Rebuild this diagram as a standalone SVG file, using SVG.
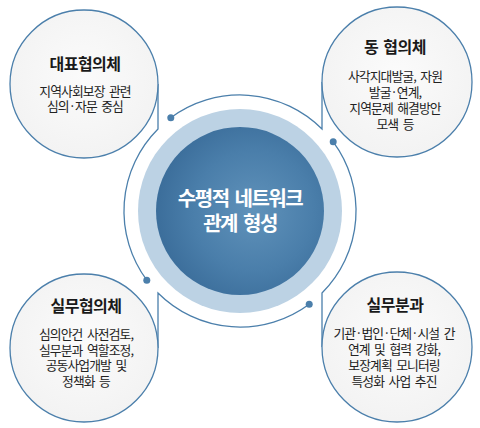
<svg xmlns="http://www.w3.org/2000/svg" width="480" height="428" viewBox="0 0 480 428">
<defs>
<radialGradient id="core" cx="0.58" cy="0.5" r="0.6">
<stop offset="0" stop-color="#6092ba"/>
<stop offset="0.6" stop-color="#4a7eaa"/>
<stop offset="1" stop-color="#3a6c99"/>
</radialGradient>
<radialGradient id="bub" cx="0.5" cy="0.45" r="0.6">
<stop offset="0" stop-color="#fbfbfb"/>
<stop offset="1" stop-color="#f2f2f2"/>
</radialGradient>
<style>
.bubble{fill:url(#bub);stroke:#4b7fab;stroke-width:1.3}
.conn{fill:none;stroke:#4b7fab;stroke-width:1.3}
.dot{fill:#4b7fab}
.title{font-family:"Noto Sans CJK KR","Noto Sans",sans-serif;font-weight:bold;font-size:16px;fill:#1a1a1a;text-anchor:middle;letter-spacing:-0.5px;word-spacing:2px}
.body{font-family:"Noto Sans CJK KR","Noto Sans",sans-serif;font-size:12.8px;fill:#222;text-anchor:middle;letter-spacing:-0.9px;word-spacing:2.5px}
.center{font-family:"Noto Sans CJK KR","Noto Sans",sans-serif;font-weight:bold;font-size:20px;fill:#fff;text-anchor:middle;letter-spacing:-1.5px;word-spacing:3px}
</style>
</defs>
<rect width="480" height="428" fill="#fff"/>
<g id="hub">
<circle cx="240" cy="211" r="102" fill="#bcd2e4"/>
<circle cx="240" cy="211" r="84" fill="url(#core)"/>
<text class="center" x="240" y="206">수평적 네트워크</text>
<text class="center" x="240" y="231">관계 형성</text>
</g>
<g id="connectors">
<path class="conn" d="M170.8,117.8 A116,116 0 0,1 322,129 L322,82"/>
<path class="conn" d="M333.2,141.8 A116,116 0 0,1 322,293 L322,347"/>
<path class="conn" d="M309.2,304.2 A116,116 0 0,1 158,293 L158,348"/>
<path class="conn" d="M146.8,280.2 A116,116 0 0,1 158,129 L158,84"/>
<circle class="dot" cx="170.8" cy="117.8" r="3.5"/>
<circle class="dot" cx="333.2" cy="141.8" r="3.5"/>
<circle class="dot" cx="309.2" cy="304.2" r="3.5"/>
<circle class="dot" cx="146.8" cy="280.2" r="3.5"/>
</g>
<g id="node-tl">
<circle class="bubble" cx="84" cy="84" r="74"/>
<text class="title" x="85" y="70">대표협의체</text>
<text class="body" x="85" y="96">지역사회보장 관련</text>
<text class="body" x="85" y="111">심의·자문 중심</text>
</g>
<g id="node-tr">
<circle class="bubble" cx="397" cy="82" r="75"/>
<text class="title" x="395" y="53">동 협의체</text>
<text class="body" x="395" y="81">사각지대발굴, 자원</text>
<text class="body" x="395" y="97">발굴·연계,</text>
<text class="body" x="395" y="113">지역문제 해결방안</text>
<text class="body" x="395" y="129">모색 등</text>
</g>
<g id="node-bl">
<circle class="bubble" cx="84" cy="348" r="74"/>
<text class="title" x="86" y="312">실무협의체</text>
<text class="body" x="86" y="339">심의안건 사전검토,</text>
<text class="body" x="86" y="355">실무분과 역할조정,</text>
<text class="body" x="86" y="370">공동사업개발 및</text>
<text class="body" x="86" y="386">정책화 등</text>
</g>
<g id="node-br">
<circle class="bubble" cx="397" cy="347" r="75"/>
<text class="title" x="395" y="311">실무분과</text>
<text class="body" x="394" y="338">기관·법인·단체·시설 간</text>
<text class="body" x="394" y="354">연계 및 협력 강화,</text>
<text class="body" x="394" y="370">보장계획 모니터링</text>
<text class="body" x="394" y="386">특성화 사업 추진</text>
</g>
</svg>
